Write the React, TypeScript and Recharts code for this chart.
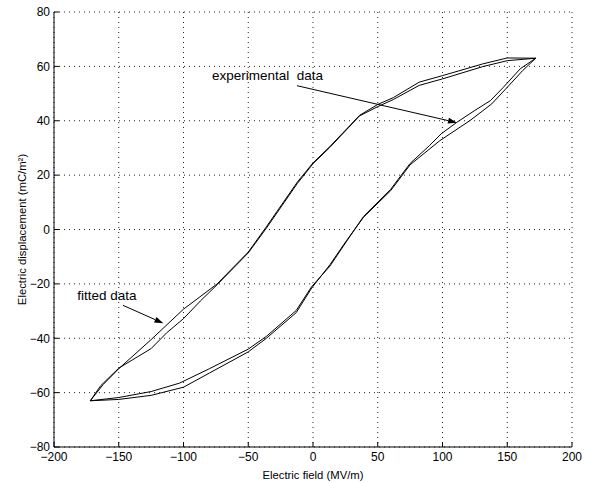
import React from "react"
import {
  LineChart,
  Line,
  XAxis,
  YAxis,
  CartesianGrid,
  ReferenceLine,
  ReferenceDot,
} from "recharts"

// fitted loop: upper branch right -> left, then lower branch left -> right
const fittedX = [
  172, 150, 131, 100, 82, 62, 50, 36, 13, 0, -12, -36, -50, -74, -100, -125, -150, -162, -172,
  -150, -125, -100, -80, -50, -36, -13, -1, 13, 26, 39, 60, 75, 98, 121, 138, 150, 162, 172,
]
const fittedY = [
  63, 63.1, 60.9, 56.6, 54.2, 48.5, 46, 42, 30.5, 24.5, 17.5, 1, -8.3, -20, -29.3, -40.5, -51.2, -57, -63,
  -62.5, -61, -58, -52.8, -45, -40, -30.6, -21.5, -13, -4, 4.5, 14.3, 23.8, 32.7, 40, 46.2, 52.3, 58.5, 63,
]

// experimental loop
const expX = [
  172, 150, 131, 100, 82, 62, 50, 36, 13, 0, -12, -36, -50, -74, -87, -100, -113, -125, -150, -164, -172,
  -150, -125, -103, -80, -50, -36, -13, -1, 13, 26, 39, 60, 75, 90, 99, 111, 125, 137, 147, 160, 172,
]
const expY = [
  63, 62.1, 59.9, 55.4, 53, 47.8, 45.2, 41.8, 30.2, 24.2, 17, 0.5, -8.6, -20.3, -26.3, -32.8, -38, -43.8, -51, -57.5, -63,
  -61.8, -59.6, -56.5, -51.2, -44, -39.3, -29.8, -21, -13.5, -4.3, 4.8, 14.8, 24.3, 30.9, 35.2, 39.4, 43.8, 47.4, 52.3, 59.1, 63,
]

const xTicks = [-200, -150, -100, -50, 0, 50, 100, 150, 200]
const yTicks = [-80, -60, -40, -20, 0, 20, 40, 60, 80]

const fitted = fittedX.map((x, i) => ({ x, y: fittedY[i] }))
const experimental = expX.map((x, i) => ({ x, y: expY[i] }))

const font = "'Liberation Sans', Arial, Helvetica, sans-serif"
const fmt = (v: number) => String(v).replace("-", "\u2212")

const Arrow = (p: any) => {
  const { x1, y1, x2, y2 } = p
  const a = Math.atan2(y2 - y1, x2 - x1)
  const len = 9
  const w = 3
  const bx = x2 - len * Math.cos(a)
  const by = y2 - len * Math.sin(a)
  const pts = [
    `${x2},${y2}`,
    `${bx + w * Math.sin(a)},${by - w * Math.cos(a)}`,
    `${bx - w * Math.sin(a)},${by + w * Math.cos(a)}`,
  ].join(" ")
  return (
    <g>
      <line x1={x1} y1={y1} x2={bx} y2={by} stroke="#000" strokeWidth={1} />
      <polygon points={pts} fill="#000" />
    </g>
  )
}

const note = (value: string) => (p: any) => (
  <text
    x={p.cx}
    y={p.cy}
    dominantBaseline="central"
    fontFamily={font}
    fontSize={13.5}
    fill="#000"
    style={{ whiteSpace: "pre" }}
  >
    {value}
  </text>
)

export default function App() {
  const tickStyle = { fill: "#000", fontSize: 12, fontFamily: font }
  return (
    <div style={{ position: "absolute", left: 0, top: 0, background: "#fff" }}>
      <LineChart width={589} height={483} margin={{ top: 12, right: 17, bottom: 0, left: 0 }}>
        <CartesianGrid stroke="#222" strokeDasharray="1 4" />
        <XAxis
          dataKey="x"
          type="number"
          domain={[-200, 200]}
          ticks={xTicks}
          allowDataOverflow
          height={36}
          tickSize={-5}
          tickMargin={10}
          tickFormatter={fmt}
          tick={tickStyle}
          stroke="#000"
          label={{
            value: "Electric field (MV/m)",
            position: "insideBottom",
            offset: 4,
            style: { fill: "#000", fontSize: 11.3, fontFamily: font },
          }}
        />
        <XAxis
          xAxisId="top"
          orientation="top"
          type="number"
          domain={[-200, 200]}
          ticks={xTicks}
          allowDataOverflow
          height={0}
          tickSize={-5}
          tick={false}
          stroke="#000"
        />
        <YAxis
          type="number"
          domain={[-80, 80]}
          ticks={yTicks}
          allowDataOverflow
          width={54}
          tickSize={-5}
          tickMargin={9}
          tickFormatter={fmt}
          tick={tickStyle}
          stroke="#000"
          label={{
            value: "Electric displacement (mC/m²)",
            angle: -90,
            position: "insideLeft",
            offset: 22,
            style: { fill: "#000", fontSize: 11.3, fontFamily: font, textAnchor: "middle" },
          }}
        />
        <YAxis
          yAxisId="right"
          orientation="right"
          type="number"
          domain={[-80, 80]}
          ticks={yTicks}
          allowDataOverflow
          width={0}
          tickSize={-5}
          tick={false}
          stroke="#000"
        />
        <Line
          data={fitted}
          dataKey="y"
          type="linear"
          stroke="#000"
          strokeWidth={1}
          dot={false}
          activeDot={false}
          isAnimationActive={false}
        />
        <Line
          data={experimental}
          dataKey="y"
          type="linear"
          stroke="#000"
          strokeWidth={1}
          dot={false}
          activeDot={false}
          isAnimationActive={false}
        />
        <ReferenceLine segment={[{ x: -12.4, y: 52.9 }, { x: 111.2, y: 39.3 }]} shape={Arrow} />
        <ReferenceLine segment={[{ x: -146.7, y: -27.9 }, { x: -115.5, y: -34.5 }]} shape={Arrow} />
        <ReferenceDot x={-78} y={56.6} r={0} shape={note("experimental  data")} />
        <ReferenceDot x={-182} y={-24.3} r={0} shape={note("fitted data")} />
      </LineChart>
    </div>
  )
}
